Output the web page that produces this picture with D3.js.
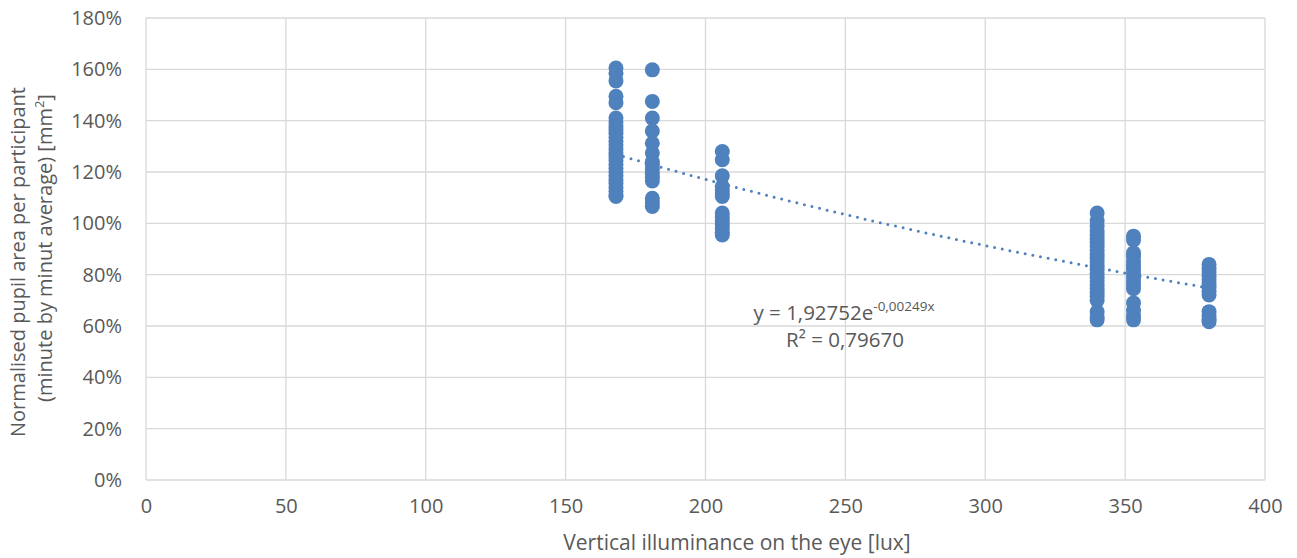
<!DOCTYPE html>
<html>
<head>
<meta charset="utf-8">
<script src="https://cdn.jsdelivr.net/npm/d3@7"></script>
<style>
  html, body { margin: 0; padding: 0; background: #fff; }
  svg { display: block; font-family: "Open Sans", "Noto Sans", sans-serif; }
</style>
</head>
<body>
<svg id="chart" width="1297" height="558"></svg>
<script>
// Illuminance levels (lux) and normalised pupil areas (%) measured at each level
const illuminance = [168, 181, 206, 340, 353, 380];
const pupil168 = [160.5, 158.5, 155.5, 149.5, 147, 141, 139.5, 138, 136.5, 135, 133.5, 132, 130.5, 129, 127.5, 126, 124.5, 123, 121.5, 120, 118.5, 117, 115.5, 114, 112.5, 111, 110.5];
const pupil181 = [159.8, 147.5, 141, 136, 131.2, 127.4, 124, 122.8, 121, 119.5, 118, 116.5, 109.8, 108, 106.6];
const pupil206 = [128, 124.8, 118.5, 114.4, 113, 111.5, 110.5, 104, 102.5, 101, 99.5, 98, 96.5, 95.5];
const pupil340 = [104, 101, 99, 97, 95.5, 94, 92.5, 91, 89.5, 88, 86.5, 85, 83.5, 82, 80.5, 79, 77.5, 76, 74.5, 73, 71.5, 70, 65.5, 63.5, 62.4];
const pupil353 = [95, 93.5, 88.5, 87, 85, 83.5, 82, 80.5, 79, 77.5, 76, 74.5, 69, 66, 64, 62.4];
const pupil380 = [84, 82.5, 81, 79.5, 78, 76.5, 75, 73.5, 72.1, 65.6, 64, 62.5, 61.7];
const pupilSeries = [pupil168, pupil181, pupil206, pupil340, pupil353, pupil380];

// Exponential fit y = a * e^(b x)
const fitA = 1.92752, fitB = -0.00249;
const fitLabel = { coef: "y = 1,92752e", exp: "-0,00249x", r2: "R² = 0,79670" };

const xTicks = [0, 50, 100, 150, 200, 250, 300, 350, 400];
const yTicks = [0, 20, 40, 60, 80, 100, 120, 140, 160, 180];

const points = [];
illuminance.forEach((lx, i) => pupilSeries[i].forEach(v => points.push({ x: lx, y: v })));

const svg = d3.select("#chart");
const textColor = "#595959";
const gridColor = "#d9d9d9";
const markColor = "#4f81bd";
const fontSize = 20;

const x = d3.scaleLinear().domain([0, 400]).range([146, 1265]);
const y = d3.scaleLinear().domain([0, 180]).range([480, 18]);

// Grid
svg.append("g").selectAll("line").data(yTicks).join("line")
  .attr("x1", x(0)).attr("x2", x(400))
  .attr("y1", d => y(d)).attr("y2", d => y(d))
  .attr("stroke", gridColor).attr("stroke-width", 1.3);
svg.append("g").selectAll("line").data(xTicks).join("line")
  .attr("x1", d => x(d)).attr("x2", d => x(d))
  .attr("y1", y(0)).attr("y2", y(180))
  .attr("stroke", gridColor).attr("stroke-width", 1.3);

// Axes (labels only)
const xAxis = svg.append("g").attr("transform", `translate(0,${y(0)})`)
  .call(d3.axisBottom(x).tickValues(xTicks).tickSize(0).tickPadding(19));
const yAxis = svg.append("g").attr("transform", `translate(${x(0)},0)`)
  .call(d3.axisLeft(y).tickValues(yTicks).tickSize(0).tickPadding(24).tickFormat(d => d + "%"));
[xAxis, yAxis].forEach(g => {
  g.select(".domain").remove();
  g.selectAll("text").attr("fill", textColor).attr("font-size", fontSize)
    .attr("font-family", "'Open Sans', sans-serif");
});

// Trendline
const curve = d3.range(168, 380.01, 1).map(v => [v, fitA * Math.exp(fitB * v) * 100]);
svg.append("path")
  .attr("d", d3.line().x(d => x(d[0])).y(d => y(d[1]))(curve))
  .attr("fill", "none").attr("stroke", markColor).attr("stroke-width", 3)
  .attr("stroke-linecap", "round").attr("stroke-dasharray", "0 7.8");

// Points
svg.append("g").selectAll("circle").data(points).join("circle")
  .attr("cx", d => x(d.x)).attr("cy", d => y(d.y)).attr("r", 7.5)
  .attr("fill", markColor);

// Fit equation
const eq = svg.append("text").attr("x", 844).attr("y", 320)
  .attr("text-anchor", "middle").attr("fill", textColor).attr("font-size", 20.5);
eq.append("tspan").text(fitLabel.coef);
eq.append("tspan").attr("dy", -9).attr("font-size", 13.5).text(fitLabel.exp);
svg.append("text").attr("x", 845).attr("y", 347)
  .attr("text-anchor", "middle").attr("fill", textColor).attr("font-size", 20.5)
  .text(fitLabel.r2);

// Axis titles
svg.append("text").attr("x", 737).attr("y", 550).attr("text-anchor", "middle")
  .attr("fill", textColor).attr("font-size", 21)
  .text("Vertical illuminance on the eye [lux]");

svg.append("text").attr("transform", "translate(25,262) rotate(-90)")
  .attr("text-anchor", "middle").attr("fill", textColor).attr("font-size", fontSize)
  .text("Normalised pupil area per participant");
const t2 = svg.append("text").attr("transform", "translate(52,248) rotate(-90)")
  .attr("text-anchor", "middle").attr("fill", textColor).attr("font-size", fontSize);
t2.append("tspan").text("(minute by minut average) [mm");
t2.append("tspan").attr("dy", -8).attr("font-size", 13).text("2");
t2.append("tspan").attr("dy", 8).text("]");
</script>
</body>
</html>
